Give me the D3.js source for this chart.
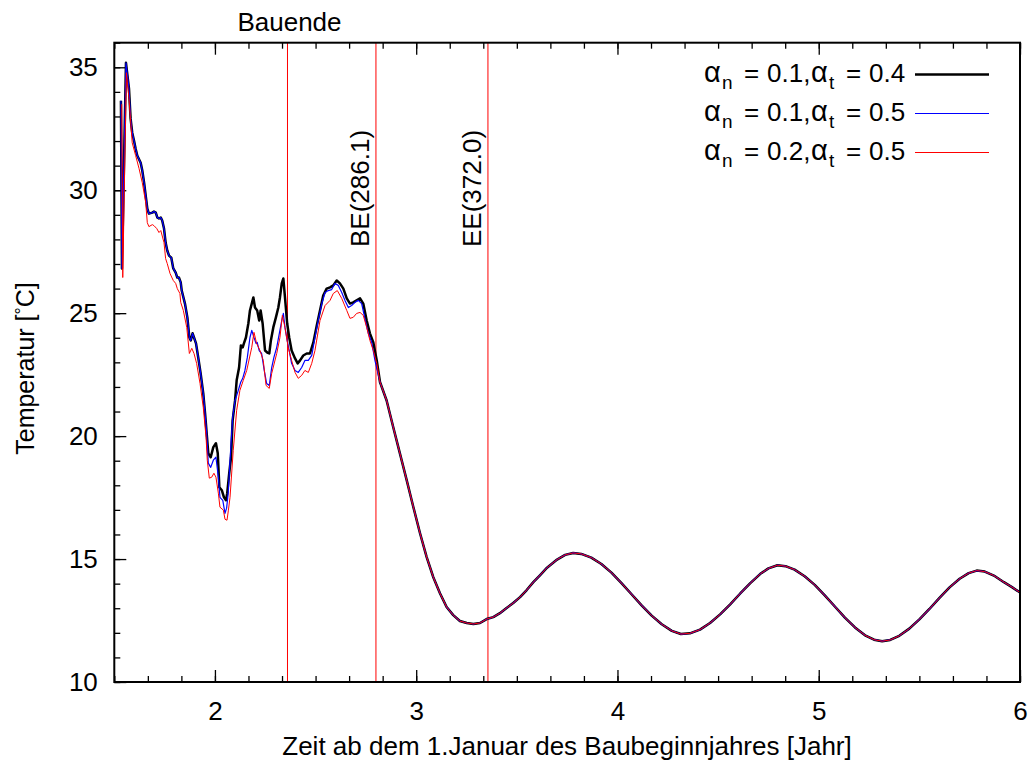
<!DOCTYPE html>
<html>
<head>
<meta charset="utf-8">
<script src="https://cdn.jsdelivr.net/npm/d3@7"></script>
<style>
  body { margin: 0; background: #fff; }
  text { font-family: "Liberation Sans", Arial, Helvetica, sans-serif; fill: #000; }
</style>
</head>
<body>
<svg id="chart" width="1036" height="763"></svg>
<script>
// ---- data -------------------------------------------------------------
const xMajorTicks = [2, 3, 4, 5, 6];
const yMajorTicks = [10, 15, 20, 25, 30, 35];

// event markers (year since 1 January of the start-of-construction year)
const markerYears  = [2.3605, 2.800, 3.3565];
const markerLabels = ["Bauende", "BE(286.1)", "EE(372.0)"];

// temperature [°C] over time [years], construction phase
const tempA = [ // alpha_n = 0.1, alpha_t = 0.4
  [1.533,33.64],[1.538,26.82],[1.558,35.18],[1.573,34.13],[1.581,32.91],[1.589,32.34],
  [1.598,32.01],[1.606,31.69],[1.614,31.41],[1.631,31.12],[1.639,30.80],[1.648,30.31],
  [1.656,29.78],[1.664,29.25],[1.672,29.05],[1.689,29.09],[1.697,29.13],[1.706,29.09],
  [1.714,28.89],[1.722,28.85],[1.731,28.89],[1.738,28.77],[1.747,28.44],[1.755,27.87],
  [1.763,27.55],[1.772,27.34],[1.783,27.26],[1.793,26.82],[1.805,26.65],[1.813,26.45],
  [1.821,26.45],[1.830,26.25],[1.835,25.92],[1.851,25.39],[1.863,24.83],[1.873,24.01],
  [1.880,23.89],[1.889,24.18],[1.896,24.01],[1.906,23.77],[1.917,23.20],[1.929,22.55],
  [1.942,21.74],[1.951,20.93],[1.959,20.11],[1.967,19.30],[1.979,19.14],[1.992,19.55],
  [2.005,19.71],[2.014,19.30],[2.022,17.92],[2.034,17.80],[2.045,17.51],[2.055,17.39],
  [2.061,17.68],[2.071,18.49],[2.080,19.14],[2.088,20.64],[2.100,21.45],[2.108,22.27],
  [2.120,22.79],[2.129,23.69],[2.138,23.61],[2.144,23.77],[2.154,24.01],[2.166,24.58],
  [2.174,25.11],[2.183,25.39],[2.191,25.64],[2.199,25.23],[2.210,25.11],[2.220,24.70],
  [2.227,25.11],[2.237,24.58],[2.249,23.48],[2.260,23.40],[2.270,23.36],[2.278,23.89],
  [2.290,24.42],[2.303,24.83],[2.315,25.23],[2.323,25.64],[2.332,26.21],[2.340,26.41],
  [2.348,25.64],[2.359,24.58],[2.369,24.01],[2.381,23.48],[2.398,23.16],[2.411,22.96],
  [2.423,23.08],[2.439,23.28],[2.456,23.36],[2.472,23.36],[2.489,23.81],[2.506,24.50],
  [2.522,25.11],[2.538,25.72],[2.555,26.00],[2.572,26.05],[2.588,26.13],[2.605,26.33],
  [2.621,26.21],[2.638,26.00],[2.655,25.60],[2.671,25.39],[2.687,25.44],[2.704,25.52],
  [2.721,25.60],[2.737,25.39],[2.754,24.70],[2.770,24.18],[2.787,23.81],[2.804,23.08]
];
const tempB = [ // alpha_n = 0.1, alpha_t = 0.5
  [1.533,33.64],[1.538,26.82],[1.558,35.18],[1.573,34.13],[1.581,32.91],[1.589,32.34],
  [1.598,32.01],[1.606,31.69],[1.614,31.41],[1.631,31.12],[1.639,30.80],[1.648,30.31],
  [1.656,29.78],[1.664,29.25],[1.672,29.05],[1.689,29.09],[1.697,29.13],[1.706,29.09],
  [1.714,28.89],[1.722,28.85],[1.731,28.89],[1.738,28.77],[1.747,28.44],[1.755,27.87],
  [1.763,27.55],[1.772,27.34],[1.783,27.26],[1.793,26.82],[1.805,26.65],[1.813,26.45],
  [1.821,26.45],[1.830,26.25],[1.835,25.92],[1.851,25.39],[1.863,24.83],[1.873,24.01],
  [1.880,23.89],[1.889,24.18],[1.896,24.01],[1.906,23.77],[1.917,23.20],[1.929,22.55],
  [1.942,21.74],[1.951,20.93],[1.959,20.11],[1.967,18.90],[1.979,18.73],[1.992,19.02],
  [2.005,19.14],[2.017,18.33],[2.025,17.51],[2.039,17.39],[2.050,16.86],[2.058,17.07],
  [2.066,17.68],[2.075,19.02],[2.088,20.76],[2.100,21.45],[2.116,21.86],[2.128,22.19],
  [2.138,22.35],[2.149,22.67],[2.161,23.20],[2.174,24.01],[2.183,24.30],[2.194,24.01],
  [2.204,23.77],[2.210,23.81],[2.220,23.48],[2.232,23.36],[2.245,22.67],[2.257,22.14],
  [2.270,22.06],[2.282,22.79],[2.293,23.20],[2.307,23.61],[2.320,24.18],[2.332,24.70],
  [2.340,24.99],[2.348,24.42],[2.359,23.89],[2.369,23.48],[2.381,22.96],[2.398,22.67],
  [2.414,22.59],[2.431,22.79],[2.447,23.08],[2.464,23.08],[2.481,23.28],[2.497,24.01],
  [2.513,24.70],[2.531,25.39],[2.547,25.84],[2.563,25.92],[2.580,25.96],[2.596,26.21],
  [2.613,26.13],[2.630,25.84],[2.646,25.52],[2.663,25.23],[2.679,25.31],[2.696,25.44],
  [2.712,25.52],[2.729,25.39],[2.745,24.79],[2.762,24.18],[2.779,23.81],[2.795,23.08]
];
const tempC = [ // alpha_n = 0.2, alpha_t = 0.5
  [1.537,33.50],[1.542,26.45],[1.560,34.78],[1.573,33.72],[1.589,31.93],[1.606,31.41],
  [1.623,30.88],[1.639,30.31],[1.656,29.50],[1.664,28.68],[1.672,28.52],[1.689,28.60],
  [1.697,28.56],[1.711,28.44],[1.722,28.28],[1.731,28.36],[1.747,27.87],[1.755,27.22],
  [1.763,27.02],[1.777,26.61],[1.793,26.33],[1.805,26.21],[1.813,26.00],[1.826,25.80],
  [1.830,25.44],[1.843,25.11],[1.860,24.42],[1.873,23.36],[1.885,23.57],[1.896,23.36],
  [1.909,22.96],[1.926,22.14],[1.942,21.17],[1.956,19.95],[1.962,19.02],[1.972,18.29],
  [1.984,18.33],[1.995,18.49],[2.005,18.33],[2.017,17.68],[2.025,17.11],[2.042,16.99],
  [2.050,16.62],[2.060,16.58],[2.067,16.99],[2.075,17.51],[2.091,19.42],[2.108,21.05],
  [2.124,21.86],[2.141,22.27],[2.158,22.67],[2.183,23.61],[2.194,24.22],[2.207,23.77],
  [2.224,23.48],[2.240,23.08],[2.254,22.06],[2.270,21.94],[2.282,22.55],[2.307,23.36],
  [2.323,24.01],[2.335,24.91],[2.348,24.42],[2.364,23.61],[2.381,23.08],[2.398,22.59],
  [2.414,22.35],[2.431,22.47],[2.447,22.67],[2.464,22.59],[2.481,22.96],[2.497,23.48],
  [2.522,24.70],[2.547,25.31],[2.572,25.52],[2.588,25.80],[2.608,25.92],[2.630,25.60],
  [2.655,25.11],[2.671,24.79],[2.687,24.83],[2.704,24.99],[2.721,25.03],[2.737,24.91],
  [2.754,24.42],[2.770,23.89],[2.787,23.48],[2.804,22.96]
];
// after construction the three runs coincide
const tempTail = [
  [2.820,22.20],[2.853,21.45],[2.886,20.36],[2.919,19.30],[2.953,18.20],[2.986,17.11],
  [3.019,16.05],[3.052,15.08],[3.085,14.26],[3.118,13.61],[3.151,13.05],[3.184,12.72],
  [3.217,12.48],[3.251,12.40],[3.284,12.36],[3.317,12.40],[3.350,12.56],[3.383,12.64],
  [3.416,12.80],[3.449,13.01],[3.482,13.21],[3.516,13.45],[3.549,13.74],[3.582,14.06],
  [3.616,14.35],[3.650,14.65],[3.700,14.98],[3.740,15.17],[3.780,15.25],[3.820,15.21],
  [3.870,15.06],[3.920,14.80],[3.970,14.45],[4.020,14.02],[4.070,13.57],[4.120,13.12],
  [4.170,12.70],[4.220,12.35],[4.270,12.08],[4.315,11.95],[4.360,11.98],[4.410,12.13],
  [4.460,12.40],[4.510,12.75],[4.560,13.16],[4.610,13.60],[4.660,14.02],[4.710,14.40],
  [4.750,14.62],[4.795,14.75],[4.835,14.71],[4.880,14.57],[4.930,14.30],[4.980,13.95],
  [5.030,13.52],[5.080,13.07],[5.130,12.62],[5.180,12.22],[5.230,11.90],[5.275,11.72],
  [5.315,11.66],[5.355,11.71],[5.400,11.88],[5.450,12.17],[5.500,12.55],[5.550,12.97],
  [5.600,13.42],[5.650,13.85],[5.700,14.20],[5.745,14.43],[5.785,14.53],[5.825,14.49],
  [5.870,14.33],[5.920,14.06],[5.960,13.86],[6.000,13.64]
];

const seriesNames  = [["0.1", "0.4"], ["0.1", "0.5"], ["0.2", "0.5"]];
const seriesColors = ["#000000", "#0000ff", "#ff0000"];
const seriesWidths = [2.5, 1.2, 1];
const seriesData   = [tempA, tempB, tempC].map(d => d.concat(tempTail));

// ---- layout -----------------------------------------------------------
const L = 114.3, R = 1020, T = 42.7, B = 682;
const svg = d3.select("#chart");
const x = d3.scaleLinear().domain([1.5, 6]).range([L, R]);
const y = d3.scaleLinear().domain([10, 36]).range([B, T]);
const FS = 26;

svg.append("clipPath").attr("id", "plotArea")
  .append("rect").attr("x", L).attr("y", T).attr("width", R - L).attr("height", B - T);

// axes: ticks point inward
function styleAxis(g) {
  g.select(".domain").remove();
  g.selectAll(".tick line").attr("stroke", "#000").attr("stroke-width", 1.3);
  g.selectAll(".tick text").attr("font-size", FS).attr("font-family", null);
}
const xMinor = d3.range(0, 28).map(k => 1.5 + k / 6);
const yMinor = d3.range(10, 37, 1);

svg.append("g").attr("transform", `translate(0,${B})`)
  .call(d3.axisBottom(x).tickValues(xMinor).tickSizeInner(-6).tickSizeOuter(0).tickFormat(""))
  .call(styleAxis);
svg.append("g").attr("transform", `translate(0,${B})`)
  .call(d3.axisBottom(x).tickValues(xMajorTicks).tickSizeInner(-12).tickSizeOuter(0).tickPadding(19.5).tickFormat(d3.format("d")))
  .call(styleAxis);
svg.append("g").attr("transform", `translate(0,${T})`)
  .call(d3.axisTop(x).tickValues(xMinor).tickSizeInner(-6).tickSizeOuter(0).tickFormat(""))
  .call(styleAxis);
svg.append("g").attr("transform", `translate(0,${T})`)
  .call(d3.axisTop(x).tickValues(xMajorTicks).tickSizeInner(-12).tickSizeOuter(0).tickFormat(""))
  .call(styleAxis);
svg.append("g").attr("transform", `translate(${L},0)`)
  .call(d3.axisLeft(y).tickValues(yMinor).tickSizeInner(-6).tickSizeOuter(0).tickFormat(""))
  .call(styleAxis);
svg.append("g").attr("transform", `translate(${L},0)`)
  .call(d3.axisLeft(y).tickValues(yMajorTicks).tickSizeInner(-12).tickSizeOuter(0).tickPadding(16.5).tickFormat(d3.format("d")))
  .call(styleAxis);

// event markers
const mk = svg.append("g");
markerYears.forEach((yr, i) => {
  mk.append("line")
    .attr("x1", x(yr)).attr("x2", x(yr)).attr("y1", T).attr("y2", B)
    .attr("stroke", "#ff0000").attr("stroke-width", 1);
});
svg.append("text")
  .attr("x", x(markerYears[0]) + 2).attr("y", 31)
  .attr("text-anchor", "middle").attr("font-size", FS)
  .text(markerLabels[0]);
[1, 2].forEach(i => {
  const tx = x(markerYears[i]) - 6.5, ty = 247;
  svg.append("text")
    .attr("transform", `translate(${tx},${ty}) rotate(-90)`)
    .attr("font-size", FS)
    .text(markerLabels[i]);
});

// curves
const line = d3.line().x(d => x(d[0])).y(d => y(d[1]));
const curves = svg.append("g").attr("clip-path", "url(#plotArea)");
seriesData.forEach((d, i) => {
  curves.append("path").datum(d)
    .attr("d", line)
    .attr("fill", "none")
    .attr("stroke", seriesColors[i])
    .attr("stroke-width", seriesWidths[i])
    .attr("stroke-linejoin", "round");
});

// frame
svg.append("rect")
  .attr("x", L).attr("y", T).attr("width", R - L).attr("height", B - T)
  .attr("fill", "none").attr("stroke", "#000").attr("stroke-width", 2);

// legend: each piece of "α_n = a,α_t = b" placed at its own x
const legendRowY = [74.5, 113.5, 152.5];
const pieceX = { a1: 704, n: 722, eq1: 744, v1: 767, a2: 811, t: 829, eq2: 846, v2: 869 };
seriesNames.forEach((nm, i) => {
  const ry = legendRowY[i], base = ry + 7;
  const t = svg.append("text").attr("y", base).attr("font-size", FS);
  t.append("tspan").attr("x", pieceX.a1).attr("y", base).attr("font-size", 29).text("\u03B1");
  t.append("tspan").attr("x", pieceX.n).attr("y", base + 7).attr("font-size", 19).text("n");
  t.append("tspan").attr("x", pieceX.eq1).attr("y", base).text("=");
  t.append("tspan").attr("x", pieceX.v1).attr("y", base).text(nm[0] + ",");
  t.append("tspan").attr("x", pieceX.a2).attr("y", base).attr("font-size", 29).text("\u03B1");
  t.append("tspan").attr("x", pieceX.t).attr("y", base + 7).attr("font-size", 19).text("t");
  t.append("tspan").attr("x", pieceX.eq2).attr("y", base).text("=");
  t.append("tspan").attr("x", pieceX.v2).attr("y", base).text(nm[1]);
  svg.append("line")
    .attr("x1", 915).attr("x2", 989).attr("y1", ry).attr("y2", ry)
    .attr("stroke", seriesColors[i]).attr("stroke-width", seriesWidths[i]);
});

// axis titles
svg.append("text")
  .attr("x", 567).attr("y", 755)
  .attr("text-anchor", "middle").attr("font-size", FS)
  .text("Zeit ab dem 1.Januar des Baubeginnjahres [Jahr]");
const yt = svg.append("text")
  .attr("transform", `translate(34,368.5) rotate(-90)`)
  .attr("text-anchor", "middle").attr("font-size", 25);
yt.append("tspan").text("Temperatur [");
yt.append("tspan").attr("dy", -6).attr("font-size", 18).text("\u00B0");
yt.append("tspan").attr("dy", 6).text("C]");
</script>
</body>
</html>
